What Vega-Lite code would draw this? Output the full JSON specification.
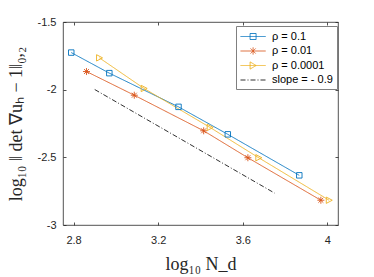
{
  "$schema": "https://vega.github.io/schema/vega-lite/v6.json",
  "width": 275,
  "height": 203,
  "autosize": {"type": "none"},
  "padding": {"left": 63, "top": 22, "right": 36, "bottom": 52},
  "background": "white",
  "config": {
    "view": {"stroke": "#262626", "strokeWidth": 0.8},
    "font": "Liberation Sans",
    "axis": {
      "domain": false,
      "grid": false,
      "tickColor": "#262626",
      "tickSize": -3,
      "tickWidth": 0.8,
      "labelFont": "Liberation Sans",
      "labelFontSize": 11,
      "labelColor": "#262626",
      "labelFlush": false,
      "titleFont": "Liberation Serif",
      "titleFontWeight": "normal",
      "titleFontSize": 18,
      "titleColor": "#262626"
    },
    "legend": {
      "symbolSize": 144,
      "symbolStrokeWidth": 0.9,
      "labelOffset": 19,
      "padding": 4,
      "rowPadding": 2.5,
      "fillColor": "white",
      "strokeColor": "#808080",
      "labelFont": "Liberation Sans",
      "labelFontSize": 11,
      "labelColor": "#000000"
    }
  },
  "datasets": {
    "pts": [
      {"series": "ρ = 0.1", "x": 2.789, "y": -1.726},
      {"series": "ρ = 0.1", "x": 2.969, "y": -1.878},
      {"series": "ρ = 0.1", "x": 3.296, "y": -2.127},
      {"series": "ρ = 0.1", "x": 3.529, "y": -2.330},
      {"series": "ρ = 0.1", "x": 3.867, "y": -2.633},
      {"series": "ρ = 0.01", "x": 2.861, "y": -1.866},
      {"series": "ρ = 0.01", "x": 3.087, "y": -2.041},
      {"series": "ρ = 0.01", "x": 3.415, "y": -2.304},
      {"series": "ρ = 0.01", "x": 3.624, "y": -2.503},
      {"series": "ρ = 0.01", "x": 3.969, "y": -2.817},
      {"series": "ρ = 0.0001", "x": 2.922, "y": -1.765},
      {"series": "ρ = 0.0001", "x": 3.133, "y": -1.991},
      {"series": "ρ = 0.0001", "x": 3.445, "y": -2.279},
      {"series": "ρ = 0.0001", "x": 3.675, "y": -2.503},
      {"series": "ρ = 0.0001", "x": 4.008, "y": -2.817},
      {"series": "slope = - 0.9", "x": 2.9, "y": -1.999},
      {"series": "slope = - 0.9", "x": 3.75, "y": -2.764}
    ]
  },
  "layer": [
    {
      "layer": [
        {
          "data": {"name": "pts"},
          "mark": {"type": "line", "strokeWidth": 0.9},
          "encoding": {
            "x": {"field": "x", "type": "quantitative", "scale": {"domain": [2.75, 4.05], "nice": false, "zero": false},
                  "axis": {"values": [2.8, 3.2, 3.6, 4], "labelExpr": "'' + datum.value", "labelPadding": 12, "title": "log₁₀ N_d", "titlePadding": 10}},
            "y": {"field": "y", "type": "quantitative", "scale": {"domain": [-3, -1.5], "nice": false, "zero": false},
                  "axis": {"values": [-3, -2.5, -2, -1.5], "labelExpr": "'' + datum.value", "labelPadding": 10, "title": "log₁₀ ‖ det ∇uₕ − 1‖₀,₂", "titlePadding": 12}},
            "color": {"field": "series", "type": "nominal",
                      "scale": {"domain": ["ρ = 0.1", "ρ = 0.01", "ρ = 0.0001", "slope = - 0.9"], "range": ["#0072BD", "#D95319", "#EDB120", "#1a1a1a"]},
                      "legend": {"orient": "none", "legendX": 173, "legendY": 4, "title": null,
                                 "encode": {"symbols": {"update": {"fill": {"value": "transparent"}, "opacity": {"value": 1}, "strokeWidth": {"value": 0.9}}}}}},
            "strokeDash": {"field": "series", "type": "nominal",
                      "scale": {"domain": ["ρ = 0.1", "ρ = 0.01", "ρ = 0.0001", "slope = - 0.9"], "range": [[1, 0], [1, 0], [1, 0], [5, 2, 1, 2]]},
                      "legend": {"orient": "none", "legendX": 173, "legendY": 4, "title": null}}
          }
        },
        {
          "data": {"name": "pts"},
          "transform": [{"filter": "datum.series === 'ρ = 0.1'"}],
          "mark": {"type": "point", "shape": "square", "filled": false, "size": 30, "strokeWidth": 0.9, "opacity": 1},
          "encoding": {
            "x": {"field": "x", "type": "quantitative"},
            "y": {"field": "y", "type": "quantitative"},
            "color": {"field": "series", "type": "nominal"}
          }
        },
        {
          "data": {"name": "pts"},
          "transform": [{"filter": "datum.series === 'ρ = 0.01'"}],
          "mark": {"type": "point", "shape": "M-1,0H1M0,-1V1M-0.7,-0.7L0.7,0.7M-0.7,0.7L0.7,-0.7", "filled": false, "size": 49, "strokeWidth": 0.9, "opacity": 1},
          "encoding": {
            "x": {"field": "x", "type": "quantitative"},
            "y": {"field": "y", "type": "quantitative"},
            "color": {"field": "series", "type": "nominal"}
          }
        },
        {
          "data": {"name": "pts"},
          "transform": [{"filter": "datum.series === 'ρ = 0.0001'"}],
          "mark": {"type": "point", "shape": "M-0.9,-1L1,0L-0.9,1Z", "filled": false, "size": 40, "strokeWidth": 0.9, "opacity": 1},
          "encoding": {
            "x": {"field": "x", "type": "quantitative"},
            "y": {"field": "y", "type": "quantitative"},
            "color": {"field": "series", "type": "nominal"}
          }
        },
        {
          "data": {"name": "pts"},
          "mark": {"type": "point", "filled": false, "opacity": 0},
          "encoding": {
            "x": {"field": "x", "type": "quantitative"},
            "y": {"field": "y", "type": "quantitative"},
            "color": {"field": "series", "type": "nominal"},
            "shape": {"field": "series", "type": "nominal",
                      "scale": {"domain": ["ρ = 0.1", "ρ = 0.01", "ρ = 0.0001", "slope = - 0.9"],
                                "range": [
                                  "M-1,0H3.2M0.6,-0.5H1.6V0.5H0.6Z",
                                  "M-1,0H3.2M1.1,-0.6V0.6M0.68,-0.42L1.52,0.42M0.68,0.42L1.52,-0.42",
                                  "M-1,0H3.2M0.6,-0.6L1.6,0L0.6,0.6Z",
                                  "M-1,0H3.2"
                                ]},
                      "legend": {"orient": "none", "legendX": 173, "legendY": 4, "title": null}}
          }
        }
      ]
    },
    {
      "data": {"name": "pts"},
      "mark": {"type": "point", "opacity": 0},
      "encoding": {
        "x": {"field": "x", "type": "quantitative",
              "axis": {"orient": "top", "values": [2.8, 3.2, 3.6, 4], "labels": false, "title": null}},
        "y": {"field": "y", "type": "quantitative",
              "axis": {"orient": "right", "values": [-3, -2.5, -2, -1.5], "labels": false, "title": null}}
      }
    }
  ],
  "resolve": {"axis": {"x": "independent", "y": "independent"}}
}
